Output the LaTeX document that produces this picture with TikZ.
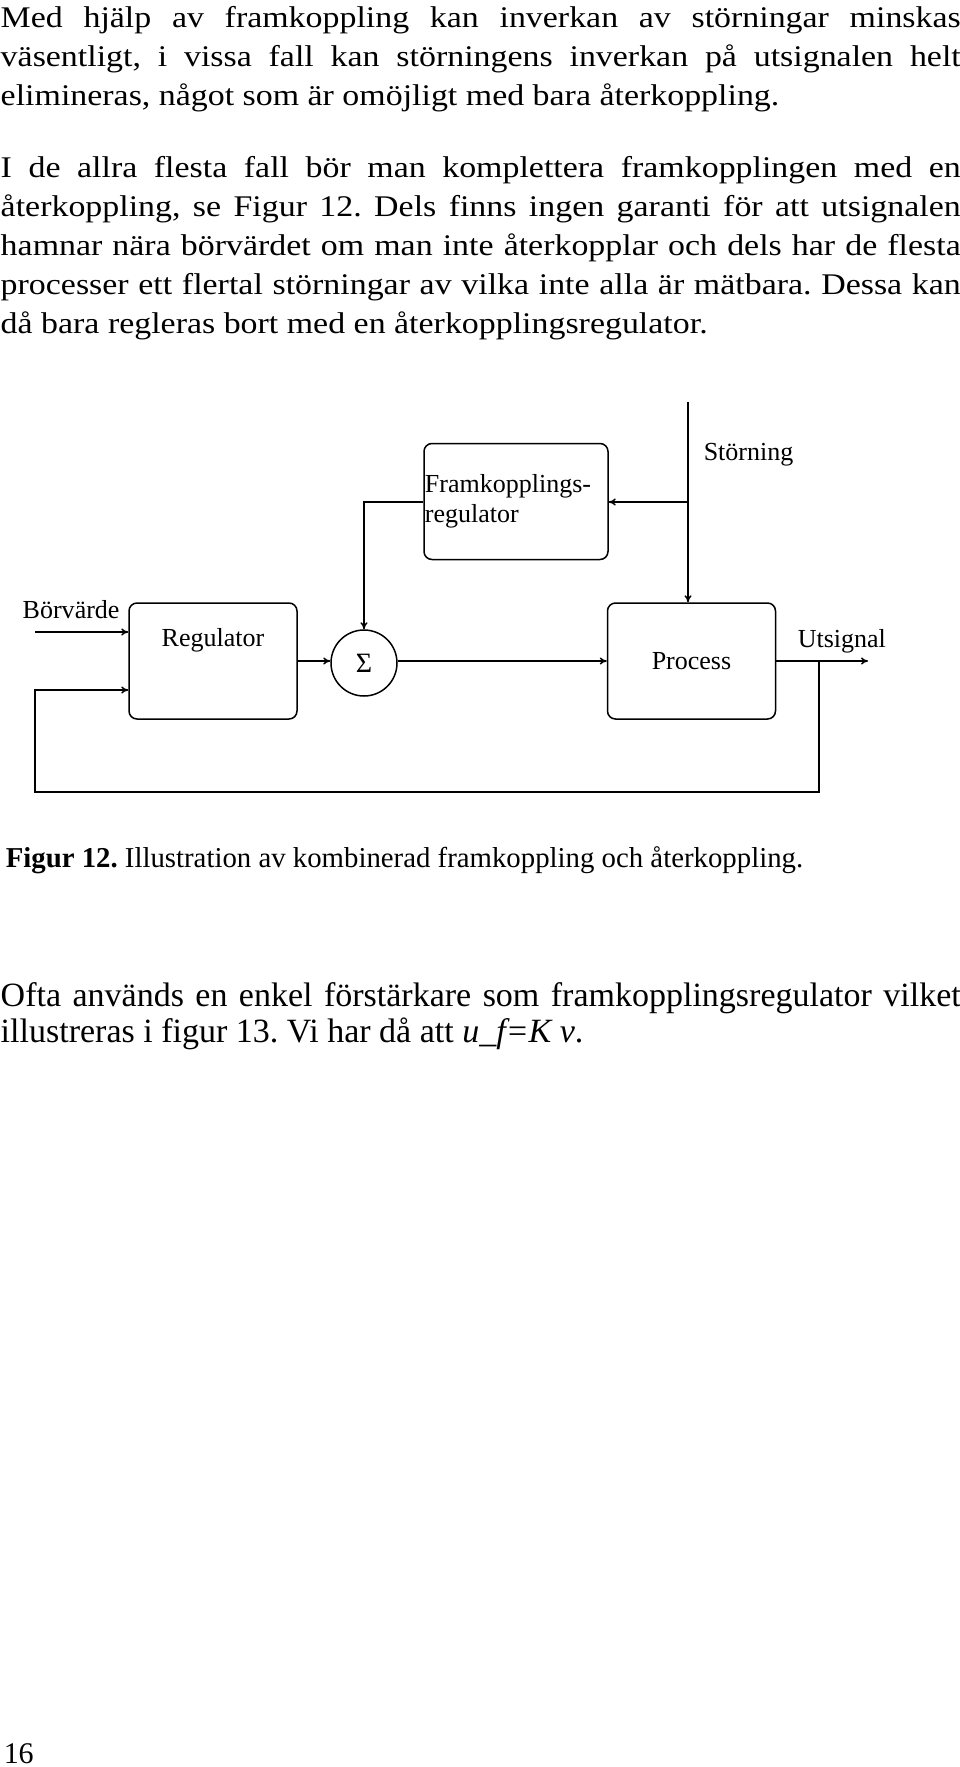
\documentclass[tikz,border=0pt]{standalone}
\usepackage{fontspec}
\setmainfont{Liberation Serif}
\newfontfamily\bodyfont[FakeStretch=1.13]{Liberation Serif}
\usetikzlibrary{arrows.meta}
\tolerance=9999
\emergencystretch=20pt
\frenchspacing

\begin{document}
\begin{tikzpicture}[x=1pt, y=-1pt, line width=1.5pt, >={To[length=7pt,width=7pt]},
    block/.style={draw, rounded corners=8pt, minimum width=168pt, minimum height=116pt,
      font=\fontsize{26}{30}\selectfont},
    lbl/.style={inner sep=0pt, font=\fontsize{26}{30}\selectfont},
    para/.style={inner sep=0pt, anchor=base west, text width=960pt, align=justify,
      font=\bodyfont\fontsize{30}{39}\selectfont}]
    \useasboundingbox (0,0) rectangle (960,1767);

    % text above the figure
    \node[para] (p1) at (0,27) {Med hjälp av framkoppling kan inverkan av störningar minskas\linebreak
      väsentligt, i vissa fall kan störningens inverkan på utsignalen helt\linebreak
      elimineras, något som är omöjligt med bara återkoppling.};
    \node[para] (p2) at (0,177) {I de allra flesta fall bör man komplettera framkopplingen med en\linebreak
      återkoppling, se Figur 12. Dels finns ingen garanti för att utsignalen\linebreak
      hamnar nära börvärdet om man inte återkopplar och dels har de flesta\linebreak
      processer ett flertal störningar av vilka inte alla är mätbara. Dessa kan\linebreak
      då bara regleras bort med en återkopplingsregulator.};

    % blocks
    \node[block] (reg) at (213,661) {};
    \node[lbl] (reglbl) at ([yshift=21pt]reg.center) {Regulator};
    \node[block] (proc) at (691.5,661) {Process};
    \node[block, minimum width=184pt] (fram) at (516,501.5) {};
    \node[lbl, align=left] (framlbl) at ([xshift=-8pt]fram.center) {Framkopplings-\\regulator};
    \node[draw, circle, minimum size=66pt, inner sep=0pt, font=\fontsize{28}{30}\selectfont] (sum) at (364,663) {Σ};

    % signals
    \coordinate (ref) at (35,632);
    \coordinate (dist) at (688,402);
    \coordinate (split) at (688,502);
    \coordinate (out) at (868,661);
    \coordinate (fb) at (819,661);
    \coordinate (fbl) at (35,792);
    \node[lbl, anchor=base west] (reflbl) at (22,618) {Börvärde};
    \node[lbl, anchor=base west] (distlbl) at (703,460) {Störning};
    \node[lbl, anchor=base west] (outlbl) at (797,647) {Utsignal};

    \draw[->] (ref) -- (ref -| reg.west);
    \draw[->] (reg.east |- 0,661) -- (sum.west |- 0,661);
    \draw[->] (sum.east |- 0,661) -- (proc.west |- 0,661);
    \draw[->] (dist) -- (dist |- proc.north);
    \draw[->] (split) -- (split -| fram.east);
    \draw[->] (fram.west |- split) -| (sum.north);
    \draw[->] (proc.east |- 0,661) -- (out);
    \draw[->] (fb) |- (fbl) |- (reg.west |- 0,690);

    % caption and text below
    \node[inner sep=0pt, anchor=base west, font=\fontsize{28.8}{34}\selectfont] (cap) at (5,867)
      {\textbf{Figur 12.} Illustration av kombinerad framkoppling och återkoppling.};
    \node[para, font=\fontsize{34}{36}\selectfont] (p3) at (0,1006)
      {Ofta används en enkel förstärkare som framkopplingsregulator vilket\linebreak
      illustreras i figur 13. Vi har då att \textit{u\_f=K v}.};
    \node[inner sep=0pt, anchor=base west, font=\fontsize{30}{36}\selectfont] (page) at (3,1763) {16};
\end{tikzpicture}
\end{document}
